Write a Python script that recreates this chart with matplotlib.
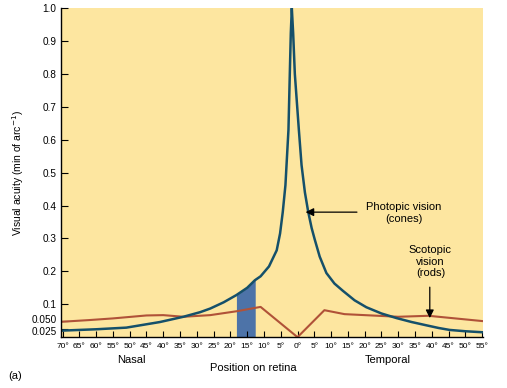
import numpy as np
import matplotlib.pyplot as plt
import matplotlib.transforms as mtransforms

plt.rcParams['font.family'] = ['Liberation Sans', 'DejaVu Sans']

# position on retina in degrees (negative = nasal, positive = temporal)
cone_pos = [-70, -60, -51, -41, -34, -29, -26, -22, -18.2, -15, -12.7, -11, -8.5, -6.2, -5.2,
            -4.4, -3.6, -2.7, -2.3, -2.0, -1.7, -1.3, -0.8, 0.4, 1.2, 2.2, 3.2, 4.2, 5.1, 6.6,
            8.6, 11, 13.5, 17, 20.5, 25, 29.5, 34, 38.4, 42, 45.3, 50, 55]
cone_acuity = [0.020, 0.024, 0.029, 0.046, 0.062, 0.076, 0.087, 0.106, 0.128, 0.150, 0.173,
               0.185, 0.215, 0.264, 0.315, 0.380, 0.462, 0.630, 0.800, 0.924, 1.0, 0.924,
               0.800, 0.630, 0.523, 0.440, 0.380, 0.332, 0.298, 0.245, 0.195, 0.163, 0.141,
               0.112, 0.091, 0.072, 0.058, 0.046, 0.036, 0.028, 0.022, 0.018, 0.015]

rod_pos = [-70, -62, -55, -45, -40, -34, -26, -18, -11, 0, 8, 14, 22, 30, 39, 47, 55]
rod_acuity = [0.047, 0.052, 0.057, 0.066, 0.067, 0.062, 0.067, 0.079, 0.092, 0.0, 0.082, 0.070,
              0.066, 0.062, 0.065, 0.057, 0.049]

blind_spot = (-18.2, -12.6)

tick_pos = list(range(-70, 56, 5))
tick_labels = [f"{abs(t)}°" for t in tick_pos]
y_ticks = [0.025, 0.050, 0.1, 0.2, 0.3, 0.4, 0.5, 0.6, 0.7, 0.8, 0.9, 1.0]
y_labels = ["0.025", "0.050", "0.1", "0.2", "0.3", "0.4", "0.5", "0.6", "0.7", "0.8", "0.9", "1.0"]

fig = plt.figure(figsize=(5.07, 3.88), dpi=100)
ax = fig.add_axes([0.120, 0.131, 0.833, 0.848])
ax.set_facecolor('#fde6a0')

# blind spot: filled under the cone curve
bx = [blind_spot[0]] + [p for p in cone_pos if blind_spot[0] < p < blind_spot[1]] + [blind_spot[1]]
by = np.interp(bx, cone_pos, cone_acuity)
ax.fill_between(bx, 0, by, color='#4d73a8', linewidth=0)

ax.plot(rod_pos, rod_acuity, color='#b05238', lw=1.5)
ax.plot(cone_pos, cone_acuity, color='#15506a', lw=1.8)

ax.set_xlim(-70.5, 55.3)
ax.set_ylim(0, 1.0)
ax.set_xticks(tick_pos)
ax.set_xticklabels(tick_labels, fontsize=6)
ax.set_yticks(y_ticks)
ax.set_yticklabels(y_labels, fontsize=7.2)
ax.tick_params(axis='x', direction='in', length=4, width=0.8, pad=4)
ax.tick_params(axis='y', direction='in', length=5, width=0.8, pad=3)
for s in ['top', 'right']:
    ax.spines[s].set_visible(False)
for s in ['left', 'bottom']:
    ax.spines[s].set_linewidth(1.0)

# nudge the two crowded labels apart
labs = ax.get_yticklabels()
labs[0].set_transform(labs[0].get_transform() + mtransforms.ScaledTranslation(0, -1.5 / 72, fig.dpi_scale_trans))
labs[1].set_transform(labs[1].get_transform() + mtransforms.ScaledTranslation(0, 1.5 / 72, fig.dpi_scale_trans))

ax.set_ylabel('Visual acuity (min of arc$^{-1}$)', fontsize=7.5, labelpad=4)

ax.annotate('', xy=(2.4, 0.38), xytext=(17.7, 0.38),
            arrowprops=dict(arrowstyle='-|>', color='black', lw=0.9,
                            shrinkA=0, shrinkB=0, mutation_scale=12))
ax.text(31.6, 0.376, 'Photopic vision\n(cones)', fontsize=8, ha='center', va='center',
        linespacing=1.25)
ax.annotate('', xy=(39.4, 0.058), xytext=(39.4, 0.152),
            arrowprops=dict(arrowstyle='-|>', color='black', lw=0.9,
                            shrinkA=0, shrinkB=0, mutation_scale=12))
ax.text(39.6, 0.229, 'Scotopic\nvision\n(rods)', fontsize=8, ha='center', va='center',
        linespacing=1.2)

fig.text(131.7 / 507, 1 - 360 / 388, 'Nasal', fontsize=8, ha='center', va='center')
fig.text(388 / 507, 1 - 360 / 388, 'Temporal', fontsize=8, ha='center', va='center')
fig.text(253 / 507, 1 - 368 / 388, 'Position on retina', fontsize=8, ha='center', va='center')
fig.text(8 / 507, 1 - 376 / 388, '(a)', fontsize=8, ha='left', va='center')

fig.savefig('out.png', dpi=100)
